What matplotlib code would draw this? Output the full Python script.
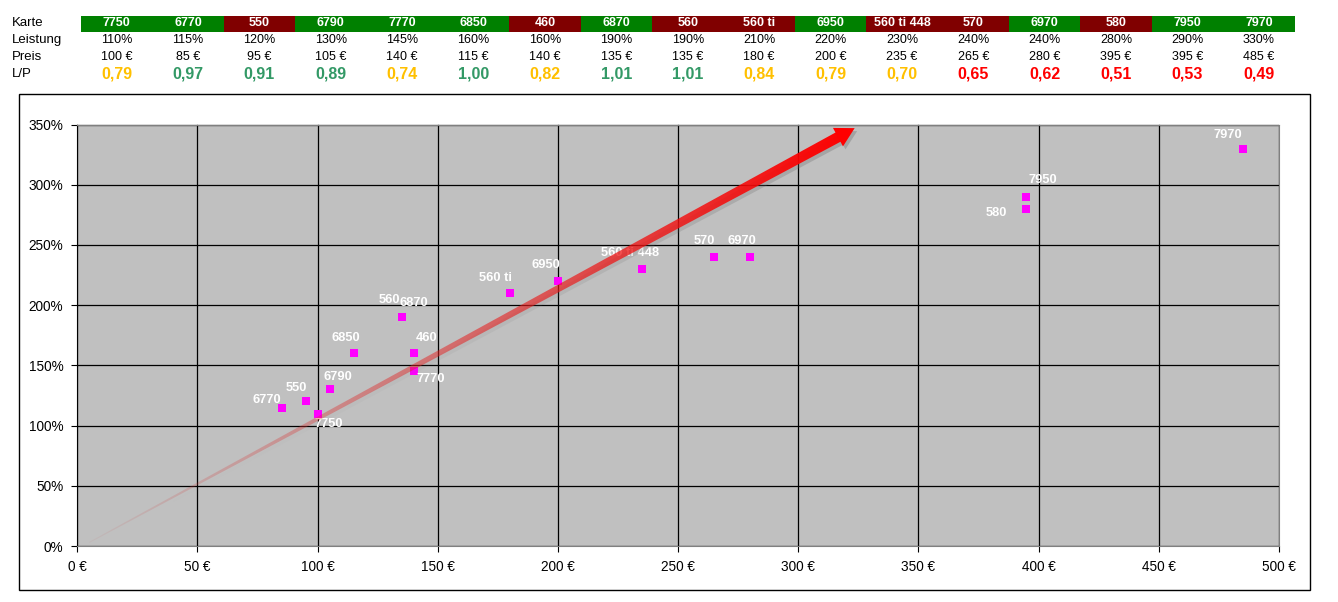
import numpy as np
import matplotlib
matplotlib.use('Agg')
import matplotlib.pyplot as plt
from matplotlib.patches import Rectangle, Polygon
from matplotlib.ticker import FixedLocator

plt.rcParams['font.family'] = ['Liberation Sans', 'DejaVu Sans']

# data
karte = ['7750', '6770', '550', '6790', '7770', '6850', '460', '6870', '560',
         '560 ti', '6950', '560 ti 448', '570', '6970', '580', '7950', '7970']
hersteller = ['nv', 'nv', 'ati', 'nv', 'nv', 'nv', 'ati', 'nv', 'ati',
              'ati', 'nv', 'ati', 'ati', 'nv', 'ati', 'nv', 'nv']
leistung = [110, 115, 120, 130, 145, 160, 160, 190, 190, 210, 220, 230, 240, 240, 280, 290, 330]
preis = [100, 85, 95, 105, 140, 115, 140, 135, 135, 180, 200, 235, 265, 280, 395, 395, 485]
lp = [0.79, 0.97, 0.91, 0.89, 0.74, 1.00, 0.82, 1.01, 1.01, 0.84, 0.79, 0.70, 0.65, 0.62, 0.51, 0.53, 0.49]

x_ticks = [0, 50, 100, 150, 200, 250, 300, 350, 400, 450, 500]
y_ticks = [0, 50, 100, 150, 200, 250, 300, 350]

# label offsets in pixels (dx, dy)
label_off = [(11, -10), (-15, 8), (-9, 13), (8, 12), (17, -8), (-8, 15), (13, 15), (12, 14),
             (-12, 17), (-14, 15), (-12, 16), (-12, 16), (-10, 16), (-8, 16), (-30, -4),
             (16, 17), (-15, 14)]

# trend arrow (data coords)
arrow_start = (5, 3)
arrow_end = (323.5, 347)

W, H = 1338, 602
fig = plt.figure(figsize=(W / 100, H / 100), dpi=100)


def fx(px):
    return px / W


def fy(py):
    return 1 - py / H


# ---- table at the top
cell_w = 71.4
x0 = 80.8
rows_y = [23.5, 40, 56.5, 74]
for lbl, yy in zip(['Karte', 'Leistung', 'Preis', 'L/P'], rows_y):
    fig.text(fx(12), fy(yy), lbl, fontsize=9.5, ha='left', va='center')

for i in range(len(karte)):
    cx = x0 + cell_w * (i + 0.5)
    col = '#008000' if hersteller[i] == 'nv' else '#800000'
    fig.add_artist(Rectangle((fx(x0 + cell_w * i), fy(32)), cell_w / W, 16.3 / H,
                             transform=fig.transFigure, facecolor=col, edgecolor='none'))
    fig.text(fx(cx), fy(rows_y[0]), karte[i], color='white', fontweight='bold',
             fontsize=9, ha='center', va='center')
    fig.text(fx(cx), fy(rows_y[1]), '%d%%' % leistung[i], fontsize=9, ha='center', va='center')
    fig.text(fx(cx), fy(rows_y[2]), '%d €' % preis[i], fontsize=9, ha='center', va='center')
    if lp[i] >= 0.85:
        c = '#339966'
    elif lp[i] >= 0.70:
        c = '#FFC000'
    else:
        c = '#FF0000'
    fig.text(fx(cx), fy(rows_y[3]), ('%.2f' % lp[i]).replace('.', ','), color=c,
             fontweight='bold', fontsize=11.5, ha='center', va='center')

# ---- chart frame
fig.add_artist(Rectangle((fx(19), fy(590)), (1310 - 19) / W, (590 - 94) / H,
                         transform=fig.transFigure, facecolor='none', edgecolor='black', lw=1))

ax = fig.add_axes([fx(77.3), fy(546), 1201.5 / W, 421.5 / H])
ax.set_facecolor('#C0C0C0')
ax.set_xlim(0, 500)
ax.set_ylim(0, 350)
ax.xaxis.set_major_locator(FixedLocator(x_ticks))
ax.yaxis.set_major_locator(FixedLocator(y_ticks))
ax.set_xticklabels(['%d €' % v for v in x_ticks], fontsize=9.8)
ax.set_yticklabels(['%d%%' % v for v in y_ticks], fontsize=9.8)
ax.grid(True, color='black', lw=0.9)
ax.set_axisbelow(True)
ax.tick_params(direction='out', length=4, width=0.8, pad=6)
for s in ['top', 'right', 'bottom']:
    ax.spines[s].set_color('#808080')
ax.spines['left'].set_color('black')

ax.scatter(preis, leistung, marker='s', s=28, color='#FF00FF', zorder=3, linewidths=0)
for i in range(len(karte)):
    ax.annotate(karte[i], (preis[i], leistung[i]), xytext=label_off[i], textcoords='offset pixels',
                ha='center', va='center', color='white', fontweight='bold', fontsize=9.3, zorder=4)

# ---- arrow with gradient shaft
fig.canvas.draw()
inv = ax.transData.inverted()
p0 = ax.transData.transform(arrow_start)
p1 = ax.transData.transform(arrow_end)
L = np.linalg.norm(p1 - p0)
u = (p1 - p0) / L
nvec = np.array([-u[1], u[0]])
head_len = 19
head_w = 21
shaft_end = p1 - u * head_len * 0.9
w0, w1 = 1.0, 10.5
shaft = np.array([p0 + nvec * w0 / 2, shaft_end + nvec * w1 / 2,
                  shaft_end - nvec * w1 / 2, p0 - nvec * w0 / 2])
base = p1 - u * head_len
head = np.array([p1, base + nvec * head_w / 2, base - nvec * head_w / 2])
shadow_off = np.array([2.5, -3.0])

# gradient image over the axes
nx, ny = 900, 330
gx = np.linspace(0, 500, nx)
gy = np.linspace(0, 350, ny)
GX, GY = np.meshgrid(gx, gy)
disp = ax.transData.transform(np.column_stack([GX.ravel(), GY.ravel()]))
t = np.clip(((disp - p0) @ u) / L, 0, 1).reshape(ny, nx)

img = np.zeros((ny, nx, 4))
img[..., 0] = 0.80 + 0.20 * t
img[..., 1] = 0.30 * (1 - t) ** 1.2
img[..., 2] = 0.30 * (1 - t) ** 1.2
img[..., 3] = 0.06 + 0.94 * t ** 0.9

shimg = np.zeros((ny, nx, 4))
shimg[..., :3] = 0.42
shimg[..., 3] = 0.35 * t ** 2

sh_poly = Polygon(inv.transform(shaft + shadow_off), closed=True, transform=ax.transData)
im_sh = ax.imshow(shimg, extent=(0, 500, 0, 350), origin='lower', aspect='auto',
                  interpolation='bilinear', zorder=4.5)
im_sh.set_clip_path(sh_poly)
ax.add_patch(Polygon(inv.transform(head + shadow_off), closed=True,
                     facecolor=(0.42, 0.42, 0.42, 0.35), edgecolor='none', zorder=4.5))

shaft_poly = Polygon(inv.transform(shaft), closed=True, transform=ax.transData)
im = ax.imshow(img, extent=(0, 500, 0, 350), origin='lower', aspect='auto',
               interpolation='bilinear', zorder=5)
im.set_clip_path(shaft_poly)
ax.add_patch(Polygon(inv.transform(head), closed=True, facecolor='#FF0000',
                     edgecolor='none', zorder=5))
ax.set_xlim(0, 500)
ax.set_ylim(0, 350)

fig.savefig('out.png', dpi=100)
